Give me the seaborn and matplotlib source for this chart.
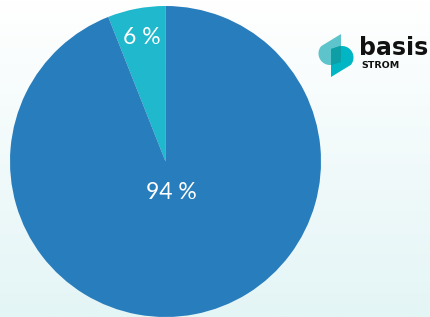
import numpy as np
import matplotlib
matplotlib.use("Agg")
import matplotlib.pyplot as plt
import seaborn as sns
from matplotlib.patches import Polygon

# data
labels = ["Anteil A", "Anteil B"]
shares = [6, 94]
slice_colors = ["#1fb8cc", "#287dbc"]
label_dist = [0.81, 0.2]

sns.set_theme(style="white")
plt.rcParams["font.family"] = ["Lato", "DejaVu Sans"]

W, H = 431, 317
fig = plt.figure(figsize=(W / 100, H / 100), dpi=100)

# background gradient (white -> light cyan)
bg = fig.add_axes([0, 0, 1, 1], zorder=0)
grad = np.linspace(0, 1, 256)[:, None]
top = np.array([1.0, 1.0, 1.0])
bottom = np.array([228, 245, 246]) / 255
img = top + (bottom - top) * grad[:, :, None]
bg.imshow(img, aspect="auto", extent=[0, 1, 0, 1], origin="upper")
bg.set_axis_off()

# pie
cx, cy, r = 165.5, 161.5, 155.5
ax = fig.add_axes([(cx - r) / W, (H - cy - r) / H, 2 * r / W, 2 * r / H], zorder=1)
wedges, texts, autotexts = ax.pie(
    shares, colors=slice_colors, startangle=90, counterclock=True,
    autopct=lambda p: f"{p:.0f} %", pctdistance=0.5,
    textprops=dict(color="white", fontsize=16.5),
    wedgeprops=dict(linewidth=0),
)
for w, t, d in zip(wedges, autotexts, label_dist):
    ang = np.deg2rad((w.theta1 + w.theta2) / 2)
    t.set_position((d * np.cos(ang), d * np.sin(ang)))
ax.set_xlim(-1, 1)
ax.set_ylim(-1, 1)
ax.set_aspect("equal")
ax.set_axis_off()
ax.patch.set_alpha(0)

# logo overlay (pixel coordinates)
lg = fig.add_axes([0, 0, 1, 1], zorder=2)
lg.set_xlim(0, W)
lg.set_ylim(H, 0)
lg.set_axis_off()
lg.patch.set_alpha(0)

# teardrop: tip at top-right, round bulge bottom-left
th = np.linspace(np.deg2rad(140), np.deg2rad(285), 50)
bulge = np.c_[330 + 11.5 * np.cos(th), 53.5 - 11.5 * np.sin(th)]
left_pts = np.vstack([[341, 34], bulge, [341, 62]])
right_pts = np.c_[672 - left_pts[:, 0], 111 - left_pts[:, 1]]

left = Polygon(left_pts, closed=True, fc="#5ec4cc", ec="none")
right = Polygon(right_pts, closed=True, fc="#00b6c4", ec="none")
lg.add_patch(left)
lg.add_patch(right)
overlap = Polygon(right_pts, closed=True, fc="#0d9ea6", ec="none")
lg.add_patch(overlap)
overlap.set_clip_path(left)

lg.text(359, 55, "basis", fontsize=17, fontweight="bold", color="#111111",
        ha="left", va="baseline", family="DejaVu Sans")
lg.text(361, 68, "STROM", fontsize=6.8, fontweight="bold", color="#111111",
        ha="left", va="baseline", family="DejaVu Sans")

fig.savefig("out.png", dpi=100)
